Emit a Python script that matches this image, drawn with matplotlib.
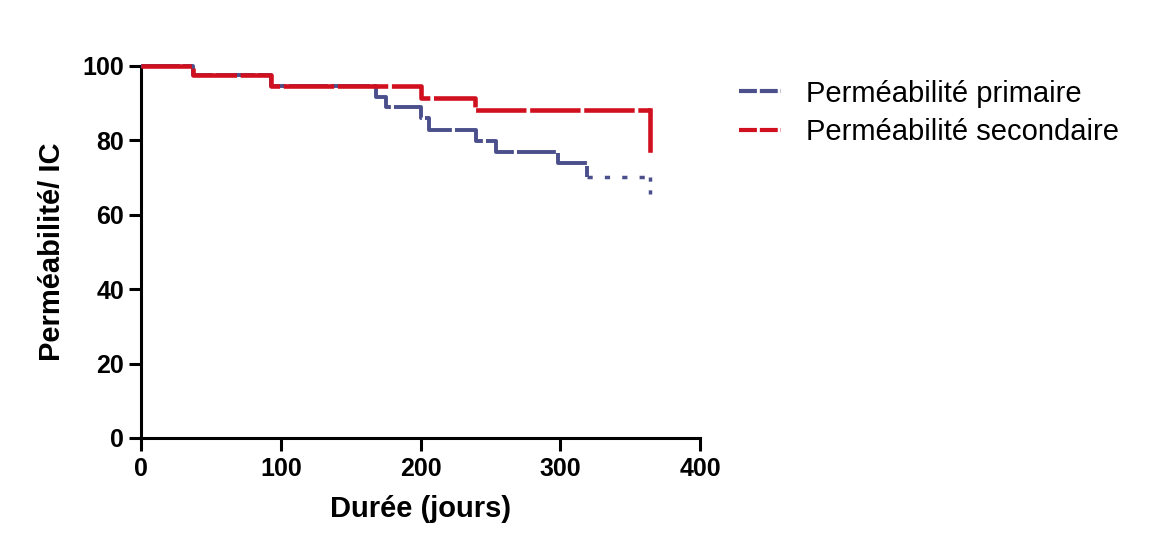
import matplotlib
matplotlib.use("Agg")
import matplotlib.pyplot as plt
from matplotlib.lines import Line2D

plt.rcParams['font.family'] = ['Liberation Sans', 'DejaVu Sans']

# Kaplan-Meier style step data (days, % patency)
primary_days = [0, 37, 93, 168, 175, 200, 206, 240, 254, 298, 319, 364]
primary_vals = [100, 97.4, 94.7, 91.7, 88.8, 86.0, 82.8, 79.8, 76.9, 73.9, 70.2, 70.2]
primary_end_vals = [70.2, 64.0]

secondary_days = [0, 37, 93, 200, 239, 364]
secondary_vals = [100, 97.4, 94.7, 91.4, 88.2, 88.2]
secondary_end_vals = [88.2, 77.4]

series_labels = ["Perméabilité primaire", "Perméabilité secondaire"]
x_ticks = [0, 100, 200, 300, 400]
y_ticks = [0, 20, 40, 60, 80, 100]

blue = "#4b4f8c"
red = "#d0101e"

fig = plt.figure(figsize=(11.49, 5.44), dpi=100)
ax = fig.add_axes([0.1227, 0.195, 0.4866, 0.684])

# primary (blue)
n_main = len(primary_days) - 2
ax.step(primary_days[:n_main + 1], primary_vals[:n_main + 1], where="post", color=blue,
        lw=2.8, dashes=(10, 0.8), clip_on=False, zorder=3)
ax.plot(primary_days[-2:], primary_vals[-2:], color=blue, lw=2.5,
        dashes=(1.5, 3.5), clip_on=False, zorder=3)
ax.plot([primary_days[-1]] * 2, primary_end_vals, color=blue, lw=2.5,
        dashes=(1.2, 2.5), clip_on=False, zorder=3)

# secondary (red), drawn on top
ax.step(secondary_days, secondary_vals, where="post", color=red, lw=3.3,
        dashes=(11, 0.8), clip_on=False, zorder=4)
ax.plot([secondary_days[-1]] * 2, secondary_end_vals, color=red, lw=3.3,
        clip_on=False, zorder=4)

ax.set_xlim(0, 400)
ax.set_ylim(0, 100)
ax.set_xticks(x_ticks)
ax.set_yticks(y_ticks)
for s in ["top", "right"]:
    ax.spines[s].set_visible(False)
for s in ["left", "bottom"]:
    ax.spines[s].set_linewidth(2.2)
ax.tick_params(axis="both", direction="out", length=9, width=2.2, labelsize=18)
ax.tick_params(axis="x", pad=5)
ax.tick_params(axis="y", pad=3)
for lab in ax.get_xticklabels() + ax.get_yticklabels():
    lab.set_fontweight("bold")

ax.set_xlabel("Durée (jours)", fontsize=21, fontweight="bold", labelpad=10)
ax.set_ylabel("Perméabilité/ IC", fontsize=21, fontweight="bold", labelpad=12)

handles = [Line2D([], [], color=blue, lw=3, dashes=(4.3, 0.7)),
           Line2D([], [], color=red, lw=3, dashes=(4.3, 0.7))]
fig.legend(handles, series_labels, loc="upper left", bbox_to_anchor=(0.62, 0.902),
           frameon=False, fontsize=21, handlelength=1.45, handletextpad=0.85,
           labelspacing=0.36)

fig.savefig("out.png", dpi=100)
